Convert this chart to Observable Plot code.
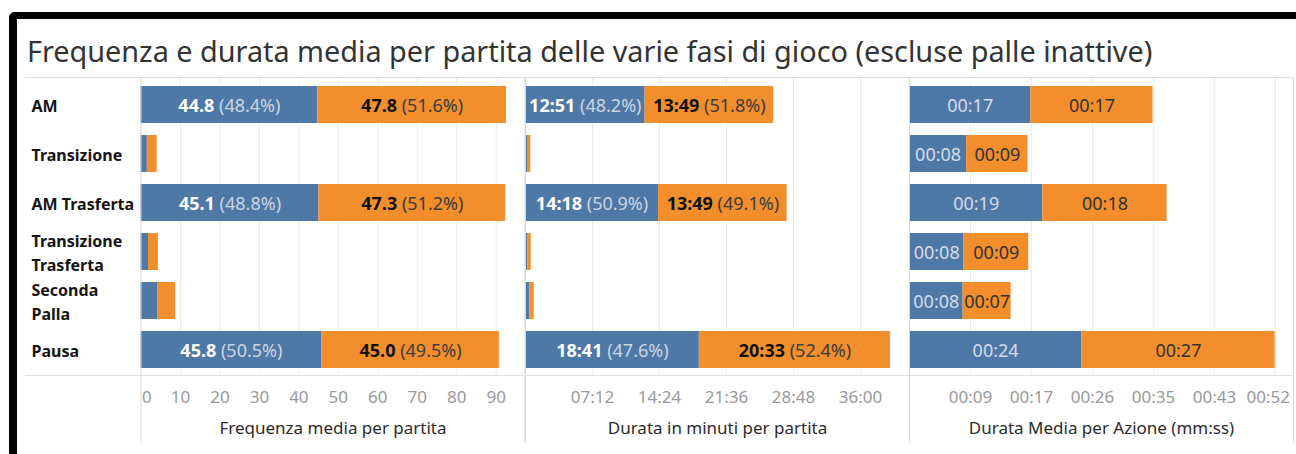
<!DOCTYPE html>
<html>
<head>
<meta charset="utf-8">
<script src="https://cdn.jsdelivr.net/npm/d3@7"></script>
<script src="https://cdn.jsdelivr.net/npm/@observablehq/plot@0.6"></script>
<style>
  body { margin: 0; background: #fff; font-family: "Noto Sans", sans-serif; }
  #page { position: relative; width: 1296px; height: 454px; overflow: hidden; background: #fff; }
  #frame { position: absolute; left: 9px; top: 12px; width: 1400px; height: 600px;
           border-left: 8px solid #000; border-top: 7px solid #000; border-top-left-radius: 6px; }
  #title { position: absolute; left: 27px; top: 37px; font-size: 28px; line-height: 28px;
           color: #333; white-space: nowrap; }
  .hline { position: absolute; left: 25px; width: 1268px; height: 1px; background: #e0e0e0; z-index: 3; }
  .panel { position: absolute; top: 78px; }
</style>
</head>
<body>
<div id="page">
  <div id="frame"></div>
  <div id="title"></div>
  <div class="hline" style="top:77px"></div>
  <div class="hline" style="top:375px"></div>
</div>
<script>
// ---------------- data ----------------
const titleText = "Frequenza e durata media per partita delle varie fasi di gioco (escluse palle inattive)";
const rows = ["AM", "Transizione", "AM Trasferta", "Transizione Trasferta", "Seconda Palla", "Pausa"];
const rowLabels = ["AM", "Transizione", "AM Trasferta", "Transizione\nTrasferta", "Seconda\nPalla", "Pausa"];

// Frequenza media per partita
const freqHome = [44.8, 1.6, 45.1, 1.9, 4.2, 45.8];
const freqAway = [47.8, 2.5, 47.3, 2.5, 4.6, 45.0];
const freqPctHome = [48.4, null, 48.8, null, null, 50.5];
const freqPctAway = [51.6, null, 51.2, null, null, 49.5];

// Durata in minuti per partita (seconds)
const durHome = [771, 13, 858, 15, 28, 1121];
const durAway = [829, 21, 829, 22, 28, 1233];
const durPctHome = [48.2, null, 50.9, null, null, 47.6];
const durPctAway = [51.8, null, 49.1, null, null, 52.4];

// Durata media per azione (seconds)
const actHome = [17.2, 8.1, 18.9, 7.7, 7.6, 24.4];
const actAway = [17.3, 8.7, 17.6, 9.2, 6.8, 27.4];

// tick values
const freqTicks = [0, 10, 20, 30, 40, 50, 60, 70, 80, 90];
const durTicks = [432, 864, 1296, 1728, 2160];
const actTicks = [8.64, 17.28, 25.92, 34.56, 43.2, 51.84];

const axisTitles = ["Frequenza media per partita", "Durata in minuti per partita", "Durata Media per Azione (mm:ss)"];
const teamColors = ["#4e79a7", "#f28e2b"];

// ---------------- helpers ----------------
function mmss(s) {
  s = Math.round(s);
  return String(Math.floor(s / 60)).padStart(2, "0") + ":" + String(s % 60).padStart(2, "0");
}
function stacked(home, away) {
  const out = [];
  rows.forEach((r, i) => {
    out.push({row: r, team: "home", i, value: home[i], x1: 0, x2: home[i]});
    out.push({row: r, team: "away", i, value: away[i], x1: home[i], x2: home[i] + away[i]});
  });
  return out;
}

const PW = 384, MB = 67, PH = 298;
const page = document.getElementById("page");
const HOME_FILL = "#fefefe", AWAY_FILL = "#101010";

function panel({left, marginLeft, domain, data, ticks, labelFn, plainLabels, axisMarks, title, withRows}) {
  const marks = [
    Plot.ruleX(ticks.filter(t => t > 0), {stroke: "#ececec", strokeWidth: 1}),
    Plot.barX(data, {x1: "x1", x2: "x2", y: "row", fill: "team"}),
  ];
  const lab = data.filter(d => labelFn(d) != null);
  const mid = d => (d.x1 + d.x2) / 2;
  if (plainLabels) {
    marks.push(Plot.text(lab.filter(d => d.team === "home"), {x: mid, y: "row", text: labelFn,
      fill: "#d3dce8", fontSize: 18, lineAnchor: "middle", dy: 1.5}));
    marks.push(Plot.text(lab.filter(d => d.team === "away"), {x: mid, y: "row", text: labelFn,
      fill: "#333", fontSize: 18, lineAnchor: "middle", dy: 1.5}));
  } else {
    marks.push(Plot.text(lab.filter(d => d.team === "home"), {x: mid, y: "row", text: labelFn,
      fill: HOME_FILL, fontSize: 18, lineAnchor: "middle", dy: 1.5}));
    marks.push(Plot.text(lab.filter(d => d.team === "away"), {x: mid, y: "row", text: labelFn,
      fill: AWAY_FILL, fontSize: 18, lineAnchor: "middle", dy: 1.5}));
  }
  marks.push(Plot.ruleX([0, domain[1]], {stroke: "#d8d8d8", insetBottom: -MB}));
  marks.push(...axisMarks);
  marks.push(Plot.text([title], {frameAnchor: "bottom", lineAnchor: "middle", dy: 52, fontSize: 17, fill: "#2b2b2b"}));
  if (withRows) {
    marks.push(Plot.text(rows, {y: d => d, text: (d, i) => rowLabels[i], frameAnchor: "left", textAnchor: "start",
      dx: -109.5, dy: -0.5, lineAnchor: "middle", fontWeight: "bold", fontSize: 16, fill: "#151515", lineHeight: 1.45}));
  }
  const svg = Plot.plot({
    width: marginLeft + PW, height: PH + MB,
    marginLeft, marginRight: 0, marginTop: 0, marginBottom: MB,
    style: {fontFamily: "Noto Sans", fontSize: "17px", background: "transparent", overflow: "visible"},
    x: {domain, axis: null},
    y: {domain: rows, paddingInner: 0.25, paddingOuter: 0.125, axis: null},
    color: {domain: ["home", "away"], range: teamColors},
    marks
  });
  // mixed-style labels: bold value + regular percentage
  d3.select(svg).selectAll("g").each(function () {
    const f = this.getAttribute("fill");
    if (f !== HOME_FILL && f !== AWAY_FILL) return;
    const home = f === HOME_FILL;
    d3.select(this).selectAll("text").each(function () {
      const t = this.textContent; const k = t.indexOf(" ");
      if (k < 0) return;
      this.textContent = "";
      d3.select(this).append("tspan").attr("font-weight", "bold").attr("fill", home ? "#ffffff" : "#111").text(t.slice(0, k));
      d3.select(this).append("tspan").attr("fill", home ? "#cbd5e2" : "#3d3d3d").text(t.slice(k));
    });
  });
  const div = document.createElement("div");
  div.className = "panel"; div.style.left = left + "px";
  div.appendChild(svg);
  page.appendChild(div);
}

const axisOpts = {tickSize: 0, tickPadding: 14.2, fill: "#999", fontSize: 17, label: null};

panel({
  left: 25, marginLeft: 115.5, domain: [0, 97.3],
  data: stacked(freqHome, freqAway), ticks: freqTicks,
  labelFn: d => { const p = d.team === "home" ? freqPctHome[d.i] : freqPctAway[d.i];
                  return p == null ? null : d.value.toFixed(1) + " (" + p.toFixed(1) + "%)"; },
  axisMarks: [
    Plot.axisX(freqTicks.slice(1), {...axisOpts}),
    Plot.axisX(freqTicks.slice(0, 1), {...axisOpts, textAnchor: "start", dx: 1})
  ],
  title: axisTitles[0], withRows: true
});
panel({
  left: 524.7, marginLeft: 0, domain: [0, 2476],
  data: stacked(durHome, durAway), ticks: durTicks,
  labelFn: d => { const p = d.team === "home" ? durPctHome[d.i] : durPctAway[d.i];
                  return p == null ? null : mmss(d.value) + " (" + p.toFixed(1) + "%)"; },
  axisMarks: [Plot.axisX(durTicks, {...axisOpts, tickFormat: mmss})],
  title: axisTitles[1]
});
panel({
  left: 908.7, marginLeft: 0, domain: [0, 54.4],
  data: stacked(actHome, actAway), ticks: actTicks,
  labelFn: d => mmss(d.value), plainLabels: true,
  axisMarks: [
    Plot.axisX(actTicks.slice(0, -1), {...axisOpts, tickFormat: mmss}),
    Plot.axisX(actTicks.slice(-1), {...axisOpts, tickFormat: mmss, textAnchor: "end", dx: 14.5})
  ],
  title: axisTitles[2]
});

// title, fitted to the reference width
const title = document.getElementById("title");
title.textContent = titleText;
const w = title.getBoundingClientRect().width;
title.style.fontSize = (28 * 1126 / w) + "px";
</script>
</body>
</html>
